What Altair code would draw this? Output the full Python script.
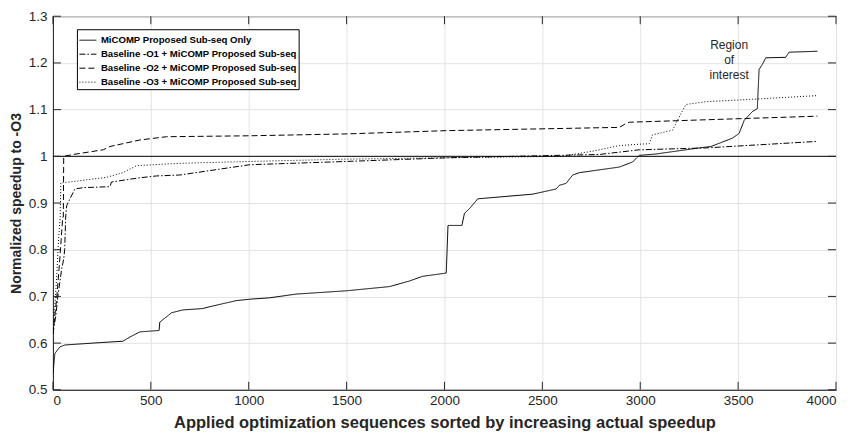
import altair as alt
import pandas as pd

# ---------------- data ----------------
series_names = [
    "MiCOMP Proposed Sub-seq Only",
    "Baseline -O1 + MiCOMP Proposed Sub-seq",
    "Baseline -O2 + MiCOMP Proposed Sub-seq",
    "Baseline -O3 + MiCOMP Proposed Sub-seq",
]

s1_x = [0, 10, 36, 61, 240, 357, 393, 444, 542, 546, 606, 663, 765, 801, 937, 1005, 1107, 1243,
        1498, 1719, 1821, 1888, 2009, 2018, 2089, 2102, 2128, 2170, 2451, 2570, 2587, 2621, 2655,
        2689, 2893, 2961, 2995, 3080, 3301, 3361, 3471, 3505, 3531, 3573, 3598, 3607, 3624, 3641,
        3743, 3760, 3905]
s1_y = [0.533, 0.578, 0.592, 0.596, 0.601, 0.604, 0.613, 0.624, 0.627, 0.645, 0.665, 0.671, 0.674,
        0.678, 0.691, 0.694, 0.697, 0.705, 0.712, 0.721, 0.733, 0.743, 0.750, 0.852, 0.852, 0.878,
        0.888, 0.909, 0.919, 0.930, 0.938, 0.942, 0.960, 0.965, 0.977, 0.988, 1.002, 1.005, 1.018,
        1.021, 1.039, 1.049, 1.077, 1.096, 1.102, 1.186, 1.197, 1.211, 1.212, 1.223, 1.225]

s2_x = [0, 15, 25, 35, 45, 55, 60, 65, 70, 87, 112, 155, 291, 299, 393, 444, 529, 648, 1005, 1498,
        2026, 2791, 2995, 3335, 3905]
s2_y = [0.62, 0.66, 0.70, 0.73, 0.76, 0.78, 0.80, 0.87, 0.894, 0.909, 0.930, 0.933, 0.935, 0.945,
        0.951, 0.954, 0.958, 0.960, 0.982, 0.989, 0.997, 1.004, 1.014, 1.018, 1.032]

s3_x = [0, 20, 35, 45, 50, 53, 55, 104, 257, 291, 444, 580, 1005, 1498, 2009, 2893, 2918, 2944, 3905]
s3_y = [0.62, 0.70, 0.78, 0.84, 0.87, 0.87, 1.0, 1.004, 1.014, 1.021, 1.035, 1.042, 1.044, 1.048,
        1.055, 1.062, 1.068, 1.073, 1.086]

s4_x = [0, 10, 20, 30, 37, 40, 104, 274, 357, 427, 648, 1005, 1498, 2026, 2600, 2757, 2893, 2995,
        3046, 3063, 3165, 3190, 3233, 3335, 3607, 3905]
s4_y = [0.62, 0.68, 0.75, 0.83, 0.87, 0.943, 0.946, 0.955, 0.965, 0.980, 0.985, 0.989, 0.994, 0.997,
        1.0, 1.011, 1.023, 1.026, 1.027, 1.046, 1.056, 1.077, 1.111, 1.117, 1.123, 1.130]

x_ticks = [0, 500, 1000, 1500, 2000, 2500, 3000, 3500, 4000]
y_ticks = [0.5, 0.6, 0.7, 0.8, 0.9, 1.0, 1.1, 1.2, 1.3]
reference_level = [1.0]
annotation = {"x": [3454], "y": [1.25], "text": ["Region\nof\ninterest"]}

# ---------------- build tables ----------------
rows = []
for name, xs, ys in zip(series_names, [s1_x, s2_x, s3_x, s4_x], [s1_y, s2_y, s3_y, s4_y]):
    for i, (a, b) in enumerate(zip(xs, ys)):
        rows.append({"series": name, "x": a, "y": b, "order": i})
df = pd.DataFrame(rows)

W, H = 784, 374
FONT = "Liberation Sans"
AX = "#262626"

xscale = alt.Scale(domain=[0, 4000], nice=False, zero=False)
yscale = alt.Scale(domain=[0.5, 1.3], nice=False, zero=False)

base_x = alt.X("x:Q", scale=xscale, axis=alt.Axis(
    values=x_ticks, format="d", title="Applied optimization sequences sorted by increasing actual speedup",
    ticks=False, tickSize=0, labelPadding=4, titlePadding=7, titleFontSize=16.5, grid=True))
base_y = alt.Y("y:Q", scale=yscale, axis=alt.Axis(
    values=y_ticks, format=".1~f", title="Normalized speedup to -O3",
    ticks=False, tickSize=0, labelPadding=6, titlePadding=5, titleFontSize=14, grid=True))

lines = alt.Chart(df).mark_line(strokeWidth=1, color="black", clip=True).encode(
    x=base_x,
    y=base_y,
    order="order:Q",
    strokeDash=alt.StrokeDash("series:N", scale=alt.Scale(
        domain=series_names, range=[[1, 0], [6, 2, 1.5, 2], [6, 3], [1, 2]]),
        legend=alt.Legend(title=None, orient="none", legendX=24, legendY=13,
                          fillColor="white", strokeColor="black", padding=2,
                          symbolType="stroke", symbolSize=289, symbolStrokeWidth=1,
                          symbolStrokeColor="black", labelOffset=4,
                          labelFont=FONT, labelFontSize=9.6, labelFontWeight="bold",
                          labelColor="black", rowPadding=-2.5, labelLimit=500, cornerRadius=0)),
)

ref = alt.Chart(pd.DataFrame({"y": reference_level})).mark_rule(color="black", strokeWidth=1).encode(
    y=alt.Y("y:Q", scale=yscale))

ytk = pd.DataFrame({"y": y_ticks})
xtk = pd.DataFrame({"x": x_ticks})
tick_left = alt.Chart(ytk).mark_rule(color=AX, strokeWidth=1).encode(
    y=alt.Y("y:Q", scale=yscale), x=alt.value(0), x2=alt.value(8))
tick_right = alt.Chart(ytk).mark_rule(color=AX, strokeWidth=1).encode(
    y=alt.Y("y:Q", scale=yscale), x=alt.value(W - 8), x2=alt.value(W))
tick_bottom = alt.Chart(xtk).mark_rule(color=AX, strokeWidth=1).encode(
    x=alt.X("x:Q", scale=xscale), y=alt.value(H), y2=alt.value(H - 8))
tick_top = alt.Chart(xtk).mark_rule(color=AX, strokeWidth=1).encode(
    x=alt.X("x:Q", scale=xscale), y=alt.value(0), y2=alt.value(8))

note = alt.Chart(pd.DataFrame(annotation)).mark_text(
    font=FONT, fontSize=12, color="#262626", lineBreak="\n", lineHeight=15,
    baseline="top", align="center").encode(
    x=alt.X("x:Q", scale=xscale), y=alt.Y("y:Q", scale=yscale), text="text:N")

chart = alt.layer(ref, lines, tick_left, tick_right, tick_bottom, tick_top, note).properties(
    width=W, height=H,
    background="white",
    padding={"left": 45, "top": 8, "right": 10, "bottom": 45},
    autosize=alt.AutoSizeParams(type="none"),
).configure_view(stroke=AX, strokeWidth=1).configure_axis(
    domainColor=AX, domainWidth=1, gridColor="#e3e3e3", gridWidth=1,
    labelFont=FONT, labelFontSize=13.5, labelColor=AX,
    titleFont=FONT, titleFontWeight="bold", titleColor=AX,
)

chart.save("out.html", embed_options={"renderer": "svg", "actions": False})
